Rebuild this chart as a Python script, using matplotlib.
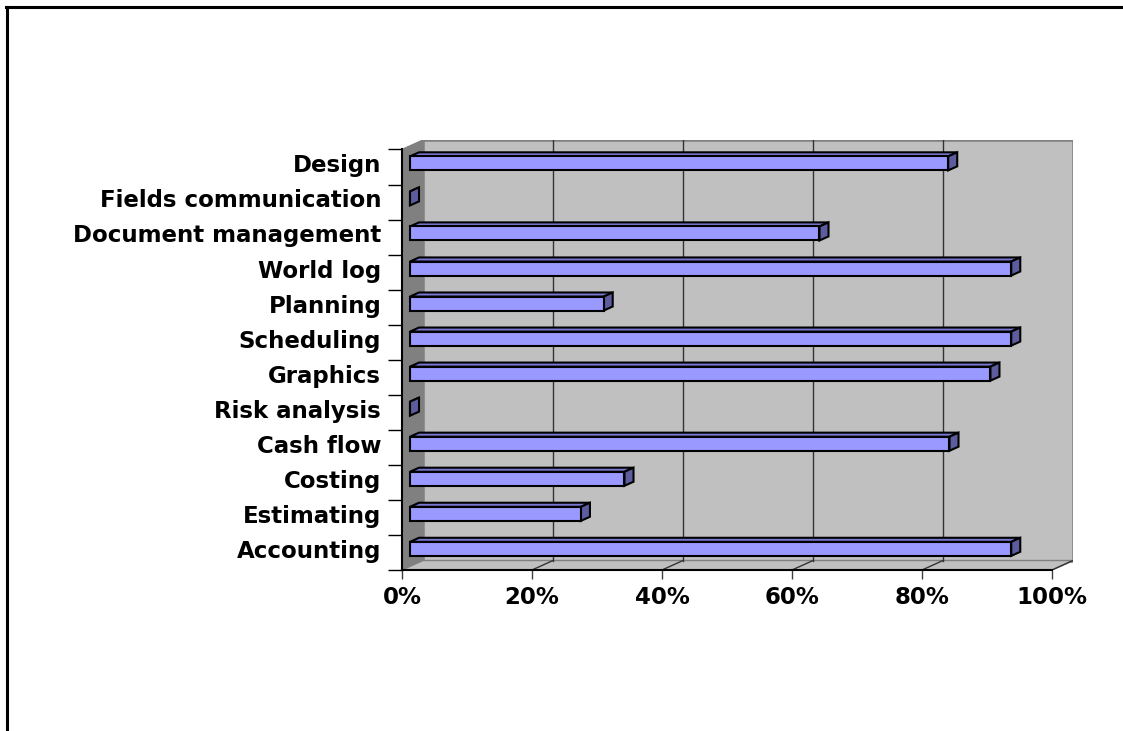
import matplotlib
matplotlib.use("Agg")
import matplotlib.pyplot as plt
from matplotlib.patches import Polygon, Rectangle
from matplotlib.lines import Line2D

# ---- data (bottom to top) ----
categories = ['Accounting', 'Estimating', 'Costing', 'Cash flow', 'Risk analysis',
              'Graphics', 'Scheduling', 'Planning', 'World log',
              'Document management', 'Fields communication', 'Design']
values = [0.925, 0.263, 0.33, 0.83, 0.0, 0.893, 0.925, 0.298, 0.925, 0.63, 0.0, 0.828]
x_ticks = [0.0, 0.2, 0.4, 0.6, 0.8, 1.0]
x_tick_labels = ['0%', '20%', '40%', '60%', '80%', '100%']

# ---- style ----
W, H = 1123, 731
FONT = dict(family='DejaVu Sans', weight='bold', size=16.5)
WALL = '#C0C0C0'
SIDE = '#808080'
FRONT_C = '#9999FF'
TOP_C = '#7878D2'
END_C = '#5C5C9E'

fig = plt.figure(figsize=(W / 100, H / 100), dpi=100)
fig.patch.set_facecolor('white')

ddx = 21 / 650.0          # depth offset in value units
ddy = 9.5 / (421 / 12.0)  # depth offset in category units
n = len(categories)

ax = fig.add_axes([402 / W, 1 - 570 / H, (1073 - 402) / W, (570 - 140) / H])
ax.set_xlim(0, 1 + ddx)
ax.set_ylim(0, n + ddy)
ax.set_facecolor('none')

# walls
ax.add_patch(Rectangle((ddx, ddy), 1, n, facecolor=WALL, edgecolor=SIDE, lw=1.8, zorder=0))
ax.add_patch(Polygon([(0, 0), (ddx, ddy), (ddx, n + ddy), (0, n)], closed=True,
                     facecolor=SIDE, edgecolor=SIDE, lw=1, zorder=0.5))
ax.add_patch(Polygon([(0, 0), (1, 0), (1 + ddx, ddy), (ddx, ddy)], closed=True,
                     facecolor=WALL, edgecolor=SIDE, lw=1, zorder=0.5))

# gridlines on back wall and floor
for t in x_ticks[1:-1]:
    ax.plot([t + ddx, t + ddx], [ddy, n + ddy], color='#333333', lw=1, zorder=1)
for t in x_ticks[1:]:
    ax.plot([t, t + ddx], [0, ddy], color='#333333', lw=1, zorder=1)

# bars
df, db = 0.38, 0.81
bh = 0.40
for i, v in enumerate(values):
    yc = i + 0.5
    b, tp = yc - bh / 2, yc + bh / 2
    xf, yf = df * ddx, df * ddy
    xb, yb = db * ddx, db * ddy
    front = Polygon([(xf, b + yf), (xf + v, b + yf), (xf + v, tp + yf), (xf, tp + yf)],
                    closed=True, facecolor=FRONT_C, edgecolor='black', lw=1.5, zorder=3)
    top = Polygon([(xf, tp + yf), (xf + v, tp + yf), (xb + v, tp + yb), (xb, tp + yb)],
                  closed=True, facecolor=TOP_C, edgecolor='black', lw=1.5, zorder=3)
    end = Polygon([(xf + v, b + yf), (xb + v, b + yb), (xb + v, tp + yb), (xf + v, tp + yf)],
                  closed=True, facecolor=END_C, edgecolor='black', lw=1.5, zorder=3)
    for p in (top, end, front):
        ax.add_patch(p)

# axes / ticks
for s in ('top', 'right'):
    ax.spines[s].set_visible(False)
ax.spines['left'].set_bounds(0, n)
ax.spines['bottom'].set_bounds(0, 1)
ax.spines['left'].set_zorder(4)
ax.spines['bottom'].set_zorder(4)
ax.spines['left'].set_linewidth(1.5)
ax.spines['bottom'].set_linewidth(1.5)

ax.set_xticks(x_ticks)
ax.set_xticklabels(x_tick_labels, **FONT)
ax.tick_params(axis='x', direction='out', length=6.5, width=1, color='#404040', pad=5)

ax.set_yticks(range(n + 1))
ax.set_yticklabels([])
ax.tick_params(axis='y', which='major', direction='out', length=10, width=1, color='black')
ax.set_yticks([i + 0.5 + df * ddy for i in range(n)], minor=True)
ax.set_yticklabels(categories, minor=True, **FONT)
ax.tick_params(axis='y', which='minor', length=0, pad=15)

# outer frame (top and left edges)
fig.add_artist(Line2D([6 / W, 1], [1 - 6.5 / H, 1 - 6.5 / H], color='black', lw=2.2))
fig.add_artist(Line2D([7 / W, 7 / W], [0, 1 - 6.5 / H], color='black', lw=2.2))

fig.savefig('out.png', dpi=100)
